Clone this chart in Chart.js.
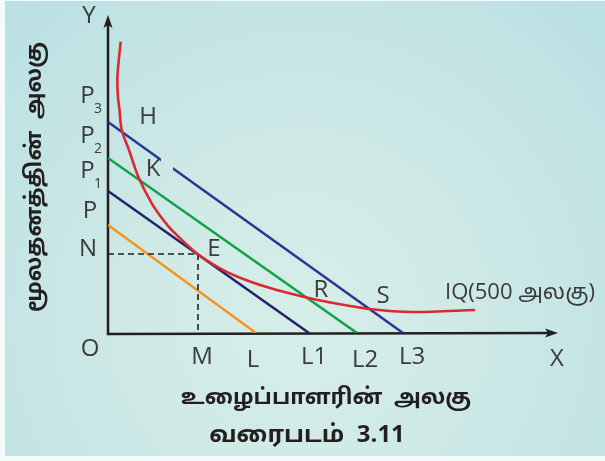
<!DOCTYPE html>
<html>
<head>
<meta charset="utf-8">
<script src="https://cdn.jsdelivr.net/npm/chart.js@4/dist/chart.umd.min.js"></script>
<style>
html,body{margin:0;padding:0;background:#fff;}
canvas{display:block;}
</style>
</head>
<body>
<canvas id="c" width="605" height="461"></canvas>
<script>
// ---- data (units of the diagram) ----
const isocostOrange = [{x:0,y:10.8},{x:14.8,y:0}];   // P - L
const isocostNavy   = [{x:0,y:14.2},{x:20.1,y:0}];   // P1 - L1
const isocostGreen  = [{x:0,y:17.5},{x:24.9,y:0}];   // P2 - L2
const isocostBlue   = [{x:0,y:21.1},{x:29.5,y:0}];   // P3 - L3
const isoquantX = [1.27,0.95,0.98,1.15,1.37,2.1,3.03,4.37,5.53,6.37,8.87,11.2,13.53,16.2,19.53,21.87,26.2,30.5,36.7];
const isoquantY = [29.13,25.8,23.8,22.3,20.3,18.3,15.63,12.97,11.3,10.3,7.97,6.47,5.4,4.5,3.63,3.13,2.4,2.1,2.3];
const equilibrium = {x:9.0, y:7.9};   // E  (M, N)
const axisMax = {x:45, y:31.8};

// ---- text labels ----
const pointLabels = ['H','K','E','R','S','IQ(500 அலகு)'];
const axisLetters = ['Y','X','O'];
const yTickLabels = [['P','3'],['P','2'],['P','1'],['P',''],['N','']];
const xTickLabels = ['M','L','L1','L2','L3'];
const xTitle = 'உழைப்பாளரின்  அலகு';
const yTitle = 'மூலதனத்தின்  அலகு';
const caption = 'வரைபடம்  3.11';

// label anchor positions (diagram units)
const pointLabelPos = [[4.0,21.6],[4.5,16.4],[10.6,8.4],[21.3,4.3],[27.5,3.7],[33.7,4.0]];
const axisLetterPos = [[-1.9,31.7],[44.9,-2.6],[-1.8,-1.6]];
const yTickX = [-2.05,-2.05,-2.05,-1.8,-2.0];
const yTickPos = [23.7,19.7,16.2,12.2,8.4];
const xTickPos = [9.4,14.5,20.6,25.7,30.4];

const iq = isoquantX.map((x,i)=>({x:x,y:isoquantY[i]}));
const dashed = [{x:0,y:equilibrium.y},{x:equilibrium.x,y:equilibrium.y},{x:equilibrium.x,y:0}];

const FONT = '"Open Sans", "Noto Sans", sans-serif';
const TAMIL = '"Noto Sans Tamil", "Lohit Tamil", "Latha", "Noto Sans", sans-serif';

const bgPlugin = {
  id:'bg',
  beforeDraw(chart){
    const ctx = chart.ctx;
    ctx.save();
    ctx.fillStyle = '#f4fbfb';
    ctx.fillRect(0,0,chart.width,chart.height);
    const g = ctx.createRadialGradient(300,320,0,300,320,420);
    g.addColorStop(0,'#d6eee8');
    g.addColorStop(0.35,'#d0eae6');
    g.addColorStop(1,'#bbe0e3');
    ctx.fillStyle = g;
    ctx.fillRect(5,1,chart.width-5,455);
    ctx.restore();
  }
};

const axesPlugin = {
  id:'axes',
  beforeDatasetsDraw(chart){
    const ctx = chart.ctx, xs = chart.scales.x, ys = chart.scales.y;
    const x0 = xs.getPixelForValue(0), y0 = ys.getPixelForValue(0);
    const xt = xs.getPixelForValue(axisMax.x), yt = ys.getPixelForValue(axisMax.y);
    ctx.save();
    ctx.strokeStyle = '#231f20';
    ctx.fillStyle = '#231f20';
    ctx.lineWidth = 2.5;
    ctx.beginPath();
    ctx.moveTo(x0, yt+6); ctx.lineTo(x0, y0+1); ctx.lineTo(xt-6, y0);
    ctx.stroke();
    ctx.beginPath();
    ctx.moveTo(x0, yt); ctx.lineTo(x0-4.5, yt+13); ctx.lineTo(x0, yt+10); ctx.lineTo(x0+4.5, yt+13); ctx.closePath();
    ctx.fill();
    ctx.beginPath();
    ctx.moveTo(xt, y0); ctx.lineTo(xt-13, y0-4.5); ctx.lineTo(xt-10, y0); ctx.lineTo(xt-13, y0+4.5); ctx.closePath();
    ctx.fill();
    ctx.restore();
  }
};

const textPlugin = {
  id:'texts',
  afterDatasetsDraw(chart){
    const ctx = chart.ctx, xs = chart.scales.x, ys = chart.scales.y;
    const px = v=>xs.getPixelForValue(v), py = v=>ys.getPixelForValue(v);
    ctx.save();
    // small gap in the P3 line behind K
    ctx.fillStyle = '#cde8e6';
    ctx.fillRect(px(5.3), py(18.0), 12, 17);

    ctx.fillStyle = '#3b3b3b';
    ctx.textAlign = 'center';
    ctx.textBaseline = 'middle';
    const big = '24px ' + FONT;
    ctx.font = big;
    pointLabels.forEach((t,i)=>{
      if (i === pointLabels.length-1) {
        ctx.textAlign = 'left';
        ctx.font = '22px ' + FONT + ', ' + TAMIL;
        ctx.fillText(t, px(pointLabelPos[i][0]), py(pointLabelPos[i][1]));
        ctx.textAlign = 'center';
        ctx.font = big;
      } else {
        ctx.fillText(t, px(pointLabelPos[i][0]), py(pointLabelPos[i][1]));
      }
    });
    axisLetters.forEach((t,i)=>ctx.fillText(t, px(axisLetterPos[i][0]), py(axisLetterPos[i][1])));
    yTickLabels.forEach((t,i)=>{
      const cx = px(yTickX[i]), cy = py(yTickPos[i]);
      ctx.font = big;
      ctx.fillText(t[0], cx, cy);
      if (t[1]) {
        ctx.font = '14px ' + FONT;
        ctx.fillText(t[1], cx+10.5, cy+13);
      }
    });
    ctx.font = big;
    xTickLabels.forEach((t,i)=>{
      const yoff = (t==='L2'||t==='L') ? 27 : 24;
      ctx.fillText(t, px(xTickPos[i]), py(0)+yoff);
    });
    // titles
    ctx.fillStyle = '#231f20';
    ctx.font = 'bold 22px ' + TAMIL;
    ctx.fillText(xTitle, 326, 400);
    ctx.font = 'bold 24px ' + TAMIL;
    ctx.fillText(caption, 307, 437);
    ctx.save();
    ctx.translate(37, 177);
    ctx.rotate(-Math.PI/2);
    ctx.font = 'bold 22px ' + TAMIL;
    ctx.fillText(yTitle, 0, 0);
    ctx.restore();
    ctx.restore();
  }
};

const line = (data,color,extra)=>Object.assign({
  data:data, showLine:true, borderColor:color, borderWidth:2.5,
  pointRadius:0, fill:false, tension:0
}, extra||{});

new Chart(document.getElementById('c'), {
  type:'scatter',
  data:{
    datasets:[
      line(iq,'#d92a2f',{tension:0.3, borderWidth:2.6}),
      line(dashed,'#231f20',{borderDash:[6,4], borderWidth:1.6}),
      line(isocostOrange,'#f7941d'),
      line(isocostNavy,'#24226a'),
      line(isocostGreen,'#12a14b'),
      line(isocostBlue,'#2b3595')
    ]
  },
  options:{
    responsive:false,
    animation:false,
    devicePixelRatio:1,
    layout:{padding:{left:108,right:47,top:15,bottom:128}},
    plugins:{legend:{display:false},tooltip:{enabled:false}},
    scales:{
      x:{type:'linear',min:0,max:axisMax.x,display:false},
      y:{type:'linear',min:0,max:axisMax.y,display:false}
    }
  },
  plugins:[bgPlugin,axesPlugin,textPlugin]
});
</script>
</body>
</html>
